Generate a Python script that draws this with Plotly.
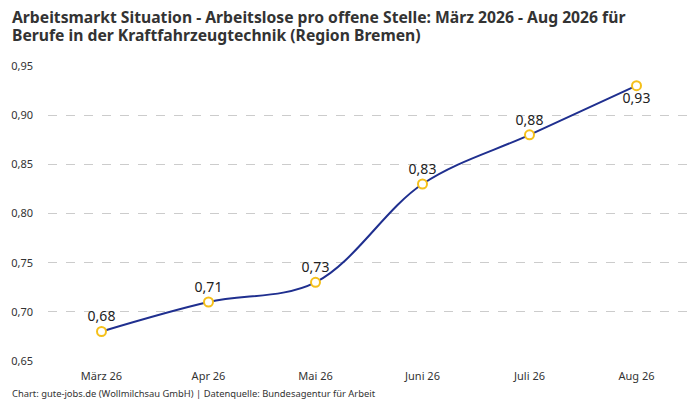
import plotly.graph_objects as go

# Werte aus dem Diagramm
monate = ["März 26", "Apr 26", "Mai 26", "Juni 26", "Juli 26", "Aug 26"]
werte = [0.68, 0.71, 0.73, 0.83, 0.88, 0.93]
y_ticks = [0.65, 0.70, 0.75, 0.80, 0.85, 0.90, 0.95]

titel_zeilen = [
    "Arbeitsmarkt Situation - Arbeitslose pro offene Stelle: März 2026 - Aug 2026 für",
    "Berufe in der Kraftfahrzeugtechnik (Region Bremen)",
]
quelle = "Chart: gute-jobs.de (Wollmilchsau GmbH) | Datenquelle: Bundesagentur für Arbeit"

labels = [f"{v:.2f}".replace(".", ",") for v in werte]
positions = ["top center"] * (len(werte) - 1) + ["bottom center"]

fig = go.Figure()
fig.add_trace(go.Scatter(
    x=monate,
    y=werte,
    mode="lines+markers+text",
    line=dict(color="#1f2f8f", width=2, shape="spline", smoothing=1),
    marker=dict(size=9, color="white", line=dict(color="#f5c01a", width=2)),
    text=labels,
    textposition=positions,
    textfont=dict(family="Noto Sans", size=14, color="#222222"),
    cliponaxis=False,
))

fig.update_layout(
    width=700,
    height=400,
    margin=dict(l=40, r=18, t=58, b=47),
    paper_bgcolor="white",
    plot_bgcolor="white",
    separators=",.",
    showlegend=False,
    font=dict(family="Noto Sans", color="#333333"),
    xaxis=dict(
        range=[-0.5, len(monate) - 0.5],
        showgrid=False,
        showline=False,
        ticks="",
        ticklabelstandoff=7,
        automargin=False,
        tickfont=dict(size=11, color="#333333"),
    ),
    yaxis=dict(
        range=[0.65, 0.95],
        tickvals=y_ticks,
        tickformat=".2f",
        showgrid=True,
        gridcolor="#cccccc",
        griddash="dash",
        gridwidth=1,
        zeroline=False,
        showline=False,
        ticks="",
        ticklabelstandoff=14,
        automargin=False,
        tickfont=dict(size=11, color="#333333"),
    ),
)

# Titel: zwei Zeilen als eigene Annotationen (engerer Zeilenabstand)
for zeile, y in zip(titel_zeilen, [1.1661, 1.1051]):
    fig.add_annotation(
        text=f"<b>{zeile}</b>",
        xref="paper", yref="paper", x=-0.0592, y=y,
        xanchor="left", yanchor="middle", align="left",
        showarrow=False,
        font=dict(size=15.7, color="#333333"),
    )

fig.add_annotation(
    text=quelle,
    xref="paper", yref="paper", x=-0.0592, y=-0.1085,
    xanchor="left", yanchor="middle",
    showarrow=False,
    font=dict(size=9.4, color="#333333"),
)

fig.write_html("out.html")
